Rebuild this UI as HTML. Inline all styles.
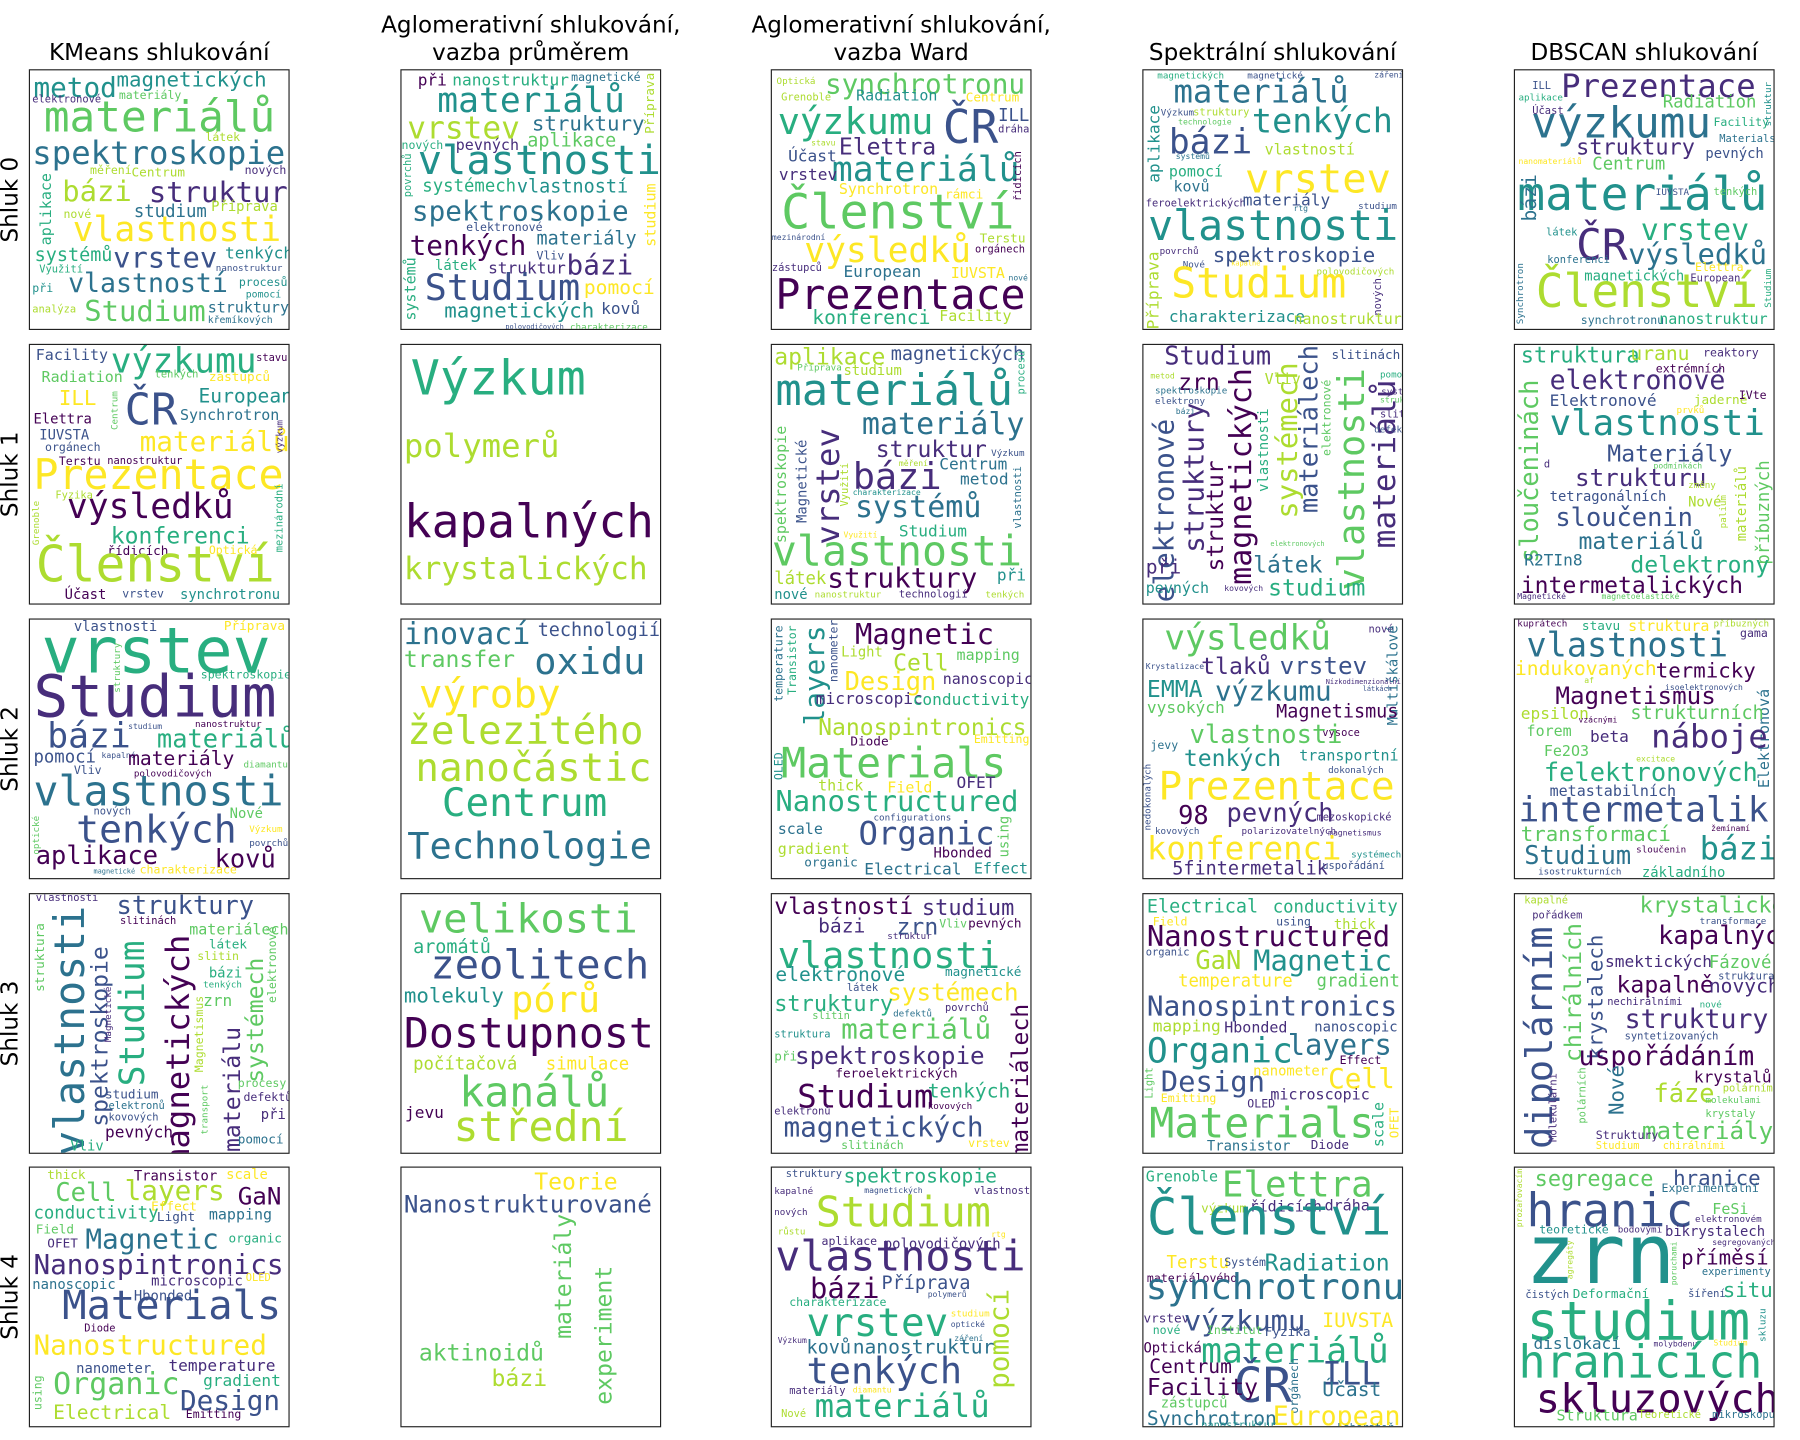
<!DOCTYPE html>
<html><head><meta charset="utf-8"><style>
body{margin:0;background:#fff;width:1800px;height:1440px;overflow:hidden}
#w{position:absolute;left:0;top:0;width:1560px;height:1248px;transform:scale(1.153846);transform-origin:0 0}
.t{position:absolute;font-family:"DejaVu Sans","Liberation Sans",sans-serif;font-size:20px;color:#000;text-align:center;width:320px;line-height:24px}
.r{position:absolute;font-family:"DejaVu Sans","Liberation Sans",sans-serif;font-size:20px;transform:rotate(-90deg);width:120px;text-align:center;line-height:22px}
.p{position:absolute;width:224px;height:224px;border:1px solid #222;overflow:hidden;background:#fff}
.p i{position:absolute;font-style:normal;font-family:"DejaVu Sans Mono","Liberation Mono",monospace;line-height:1;white-space:nowrap}
.p i.v{writing-mode:vertical-rl;transform:rotate(180deg)}
.c0{color:#440154}.c1{color:#472d7b}.c2{color:#3b528b}.c3{color:#2c728e}.c4{color:#21918c}.c5{color:#28ae80}.c6{color:#5ec962}.c7{color:#addc30}.c8{color:#fde725}
</style></head><body><div id="w">
<div class="t" style="left:-22px;top:33px">KMeans shlukování</div>
<div class="t" style="left:300px;top:9px">Aglomerativní shlukování,<br>vazba průměrem</div>
<div class="t" style="left:621px;top:9px">Aglomerativní shlukování,<br>vazba Ward</div>
<div class="t" style="left:943px;top:33px">Spektrální shlukování</div>
<div class="t" style="left:1265px;top:33px">DBSCAN shlukování</div>
<div class="r" style="left:-52px;top:162px">Shluk 0</div>
<div class="r" style="left:-52px;top:400px">Shluk 1</div>
<div class="r" style="left:-52px;top:638px">Shluk 2</div>
<div class="r" style="left:-52px;top:876px">Shluk 3</div>
<div class="r" style="left:-52px;top:1113px">Shluk 4</div>

<!-- r0c0 -->
<div class="p" style="left:25px;top:60px">
<i class="c4" style="left:3px;top:3px;font-size:24px">metod</i>
<i class="c4" style="left:75px;top:0px;font-size:18px">magnetických</i>
<i class="c1" style="left:2px;top:22px;font-size:9px">elektronové</i>
<i class="c6" style="left:77px;top:18px;font-size:10px">materiály</i>
<i class="c6" style="left:12px;top:22px;font-size:37px">materiálů</i>
<i class="c7" style="left:152px;top:54px;font-size:10px">látek</i>
<i class="c3" style="left:2px;top:58px;font-size:28px">spektroskopie</i>
<i class="c7" style="left:52px;top:83px;font-size:10px">měření</i>
<i class="c7" style="left:88px;top:83px;font-size:11px">Centrum</i>
<i class="c1" style="left:186px;top:83px;font-size:10px">nových</i>
<i class="c5 v" style="left:8px;top:89px;font-size:13px">aplikace</i>
<i class="c7" style="left:28px;top:92px;font-size:25px">bázi</i>
<i class="c1" style="left:103px;top:93px;font-size:25px">struktur</i>
<i class="c3" style="left:90px;top:115px;font-size:15px">studium</i>
<i class="c7" style="left:157px;top:112px;font-size:12px">Příprava</i>
<i class="c7" style="left:29px;top:121px;font-size:10px">nové</i>
<i class="c8" style="left:37px;top:124px;font-size:30px">vlastnosti</i>
<i class="c5" style="left:4px;top:152px;font-size:16px">systémů</i>
<i class="c2" style="left:72px;top:150px;font-size:25px">vrstev</i>
<i class="c4" style="left:169px;top:152px;font-size:14px">tenkých</i>
<i class="c5" style="left:8px;top:169px;font-size:9px">Využití</i>
<i class="c2" style="left:161px;top:168px;font-size:8px">nanostruktur</i>
<i class="c3" style="left:33px;top:174px;font-size:23px">vlastností</i>
<i class="c4" style="left:181px;top:180px;font-size:10px">procesů</i>
<i class="c4" style="left:2px;top:185px;font-size:10px">při</i>
<i class="c4" style="left:187px;top:191px;font-size:8.5px">pomocí</i>
<i class="c7" style="left:2px;top:204px;font-size:9px">analýza</i>
<i class="c6" style="left:47px;top:196px;font-size:25px">Studium</i>
<i class="c3" style="left:154px;top:200px;font-size:13px">struktury</i>
<i class="c3" style="left:154px;top:213px;font-size:8.5px">křemíkových</i>
</div>

<!-- r0c1 -->
<div class="p" style="left:347px;top:60px">
<i class="c0" style="left:14px;top:2px;font-size:14px">při</i>
<i class="c5" style="left:44px;top:2px;font-size:14px">nanostruktur</i>
<i class="c3" style="left:147px;top:2px;font-size:10px">magnetické</i>
<i class="c7 v" style="left:210px;top:2px;font-size:11px">Příprava</i>
<i class="c4" style="left:31px;top:12px;font-size:30px">materiálů</i>
<i class="c7" style="left:5px;top:37px;font-size:27px">vrstev</i>
<i class="c3" style="left:113px;top:38px;font-size:18px">struktury</i>
<i class="c6" style="left:109px;top:53px;font-size:16px">aplikace</i>
<i class="c5" style="left:0px;top:61px;font-size:10px">nových</i>
<i class="c1" style="left:47px;top:59px;font-size:13px">pevných</i>
<i class="c4" style="left:14px;top:62px;font-size:35px">vlastnosti</i>
<i class="c5 v" style="left:2px;top:72px;font-size:9px">povrchů</i>
<i class="c5" style="left:18px;top:93px;font-size:15px">systémech</i>
<i class="c4" style="left:100px;top:93px;font-size:16px">vlastností</i>
<i class="c8 v" style="left:210px;top:98px;font-size:13px">studium</i>
<i class="c3" style="left:9px;top:110px;font-size:24px">spektroskopie</i>
<i class="c2" style="left:56px;top:132px;font-size:10px">elektronové</i>
<i class="c3" style="left:117px;top:138px;font-size:16px">materiály</i>
<i class="c0" style="left:7px;top:140px;font-size:24px">tenkých</i>
<i class="c2" style="left:117px;top:157px;font-size:10px">Vliv</i>
<i class="c1" style="left:143px;top:157px;font-size:24px">bázi</i>
<i class="c5" style="left:29px;top:163px;font-size:12px">látek</i>
<i class="c1" style="left:75px;top:165px;font-size:14px">struktur</i>
<i class="c5 v" style="left:2px;top:162px;font-size:13px">systémů</i>
<i class="c2" style="left:20px;top:172px;font-size:32px">Studium</i>
<i class="c8" style="left:158px;top:181px;font-size:17px">pomocí</i>
<i class="c4" style="left:37px;top:200px;font-size:18px">magnetických</i>
<i class="c2" style="left:173px;top:200px;font-size:14px">kovů</i>
<i class="c2" style="left:90px;top:220px;font-size:6px">polovodičových</i>
<i class="c6" style="left:146px;top:219px;font-size:8px">charakterizace</i>
</div>

<!-- r0c2 -->
<div class="p" style="left:668px;top:60px">
<i class="c7" style="left:4px;top:6px;font-size:8px">Optická</i>
<i class="c6" style="left:46px;top:0px;font-size:24px">synchrotronu</i>
<i class="c7" style="left:8px;top:20px;font-size:9px">Grenoble</i>
<i class="c4" style="left:73px;top:16px;font-size:13px">Radiation</i>
<i class="c8" style="left:168px;top:18px;font-size:11px">Centrum</i>
<i class="c5" style="left:5px;top:28px;font-size:32px">výzkumu</i>
<i class="c2" style="left:148px;top:30px;font-size:40px">ČR</i>
<i class="c2" style="left:196px;top:32px;font-size:15px">ILL</i>
<i class="c7" style="left:34px;top:60px;font-size:7px">stavu</i>
<i class="c1" style="left:196px;top:48px;font-size:9px">dráha</i>
<i class="c2" style="left:14px;top:68px;font-size:14px">Účast</i>
<i class="c1" style="left:58px;top:56px;font-size:20px">Elettra</i>
<i class="c4" style="left:52px;top:72px;font-size:30px">materiálů</i>
<i class="c0 v" style="left:210px;top:70px;font-size:9px">řídicích</i>
<i class="c1" style="left:6px;top:84px;font-size:14px">vrstev</i>
<i class="c8" style="left:58px;top:97px;font-size:13px">Synchrotron</i>
<i class="c8" style="left:150px;top:102px;font-size:11px">rámci</i>
<i class="c6" style="left:8px;top:102px;font-size:42px">Členství</i>
<i class="c2" style="left:0px;top:142px;font-size:7px">mezinárodní</i>
<i class="c8" style="left:28px;top:142px;font-size:30px">výsledků</i>
<i class="c7" style="left:180px;top:140px;font-size:11px">Terstu</i>
<i class="c0" style="left:176px;top:152px;font-size:9px">orgánech</i>
<i class="c1" style="left:0px;top:168px;font-size:9px">zástupců</i>
<i class="c3" style="left:62px;top:168px;font-size:14px">European</i>
<i class="c8" style="left:155px;top:170px;font-size:13px">IUVSTA</i>
<i class="c3" style="left:205px;top:177px;font-size:7px">nové</i>
<i class="c0" style="left:3px;top:178px;font-size:36px">Prezentace</i>
<i class="c5" style="left:35px;top:207px;font-size:17px">konferenci</i>
<i class="c7" style="left:145px;top:207px;font-size:13px">Facility</i>
</div>

<!-- r0c3 -->
<div class="p" style="left:990px;top:60px">
<i class="c5" style="left:12px;top:1px;font-size:8px">magnetických</i>
<i class="c2" style="left:90px;top:1px;font-size:8px">magnetické</i>
<i class="c2" style="left:200px;top:1px;font-size:7px">záření</i>
<i class="c3" style="left:26px;top:5px;font-size:28px">materiálů</i>
<i class="c4" style="left:94px;top:30px;font-size:29px">tenkých</i>
<i class="c4 v" style="left:3px;top:30px;font-size:14px">aplikace</i>
<i class="c2" style="left:15px;top:33px;font-size:8px">Výzkum</i>
<i class="c7" style="left:43px;top:33px;font-size:9px">struktury</i>
<i class="c6" style="left:30px;top:42px;font-size:7px">technologie</i>
<i class="c2" style="left:22px;top:48px;font-size:30px">bázi</i>
<i class="c7" style="left:105px;top:63px;font-size:13px">vlastností</i>
<i class="c3" style="left:28px;top:72px;font-size:7px">systémů</i>
<i class="c5" style="left:22px;top:82px;font-size:13px">pomocí</i>
<i class="c3" style="left:26px;top:95px;font-size:13px">kovů</i>
<i class="c8" style="left:88px;top:78px;font-size:35px">vrstev</i>
<i class="c1" style="left:2px;top:112px;font-size:9px">feroelektrických</i>
<i class="c2" style="left:86px;top:106px;font-size:14px">materiály</i>
<i class="c3" style="left:130px;top:117px;font-size:7px">rtg</i>
<i class="c2" style="left:186px;top:114px;font-size:8px">studium</i>
<i class="c4" style="left:4px;top:118px;font-size:36px">vlastnosti</i>
<i class="c7 v" style="left:2px;top:157px;font-size:14px">Příprava</i>
<i class="c1" style="left:14px;top:153px;font-size:8px">povrchů</i>
<i class="c2" style="left:60px;top:152px;font-size:18px">spektroskopie</i>
<i class="c2" style="left:34px;top:165px;font-size:8px">Nové</i>
<i class="c8" style="left:76px;top:165px;font-size:6px">kapalné</i>
<i class="c7" style="left:150px;top:171px;font-size:8px">polovodičových</i>
<i class="c8" style="left:24px;top:168px;font-size:36px">Studium</i>
<i class="c1 v" style="left:200px;top:180px;font-size:9px">nových</i>
<i class="c4" style="left:22px;top:207px;font-size:14px">charakterizace</i>
<i class="c7" style="left:130px;top:210px;font-size:13px">nanostruktur</i>
</div>

<!-- r0c4 -->
<div class="p" style="left:1312px;top:60px">
<i class="c1" style="left:40px;top:0px;font-size:28px">Prezentace</i>
<i class="c2" style="left:15px;top:10px;font-size:9px">ILL</i>
<i class="c5" style="left:3px;top:20px;font-size:8px">aplikace</i>
<i class="c1" style="left:15px;top:32px;font-size:9px">Účast</i>
<i class="c6" style="left:128px;top:20px;font-size:15px">Radiation</i>
<i class="c3" style="left:14px;top:27px;font-size:37px">výzkumu</i>
<i class="c5" style="left:172px;top:41px;font-size:10px">Facility</i>
<i class="c3" style="left:177px;top:56px;font-size:9px">Materials</i>
<i class="c4 v" style="left:216px;top:10px;font-size:8px">struktur</i>
<i class="c1" style="left:53px;top:58px;font-size:19px">struktury</i>
<i class="c2" style="left:165px;top:66px;font-size:12px">pevných</i>
<i class="c8" style="left:3px;top:76px;font-size:7px">nanomateriálů</i>
<i class="c6" style="left:67px;top:74px;font-size:15px">Centrum</i>
<i class="c4" style="left:2px;top:88px;font-size:40px">materiálů</i>
<i class="c2" style="left:122px;top:102px;font-size:8px">IUVSTA</i>
<i class="c6" style="left:172px;top:102px;font-size:9px">tenkých</i>
<i class="c3 v" style="left:5px;top:90px;font-size:17px">bázi</i>
<i class="c4" style="left:27px;top:137px;font-size:9px">látek</i>
<i class="c1" style="left:53px;top:133px;font-size:37px">ČR</i>
<i class="c5" style="left:109px;top:126px;font-size:26px">vrstev</i>
<i class="c3" style="left:98px;top:147px;font-size:25px">výsledků</i>
<i class="c3" style="left:28px;top:161px;font-size:9px">konferenci</i>
<i class="c8" style="left:156px;top:167px;font-size:10px">Elettra</i>
<i class="c5" style="left:60px;top:172px;font-size:12px">magnetických</i>
<i class="c1" style="left:152px;top:177px;font-size:9px">European</i>
<i class="c3 v" style="left:1px;top:167px;font-size:8px">Synchrotron</i>
<i class="c7" style="left:18px;top:172px;font-size:40px">Členství</i>
<i class="c5 v" style="left:216px;top:172px;font-size:8px">Studium</i>
<i class="c3" style="left:57px;top:213px;font-size:10px">synchrotronu</i>
<i class="c5" style="left:125px;top:210px;font-size:13px">nanostruktur</i>
</div>

<!-- r1c0 -->
<div class="p" style="left:25px;top:298px">
<i class="c2" style="left:5px;top:3px;font-size:13px">Facility</i>
<i class="c5" style="left:70px;top:0px;font-size:30px">výzkumu</i>
<i class="c0" style="left:196px;top:8px;font-size:9px">stavu</i>
<i class="c6" style="left:10px;top:22px;font-size:13px">Radiation</i>
<i class="c6" style="left:108px;top:22px;font-size:9px">tenkých</i>
<i class="c8" style="left:155px;top:22px;font-size:11px">zástupců</i>
<i class="c8" style="left:25px;top:38px;font-size:18px">ILL</i>
<i class="c6 v" style="left:70px;top:40px;font-size:8px">Centrum</i>
<i class="c2" style="left:82px;top:37px;font-size:38px">ČR</i>
<i class="c4" style="left:146px;top:37px;font-size:17px">European</i>
<i class="c0" style="left:3px;top:58px;font-size:12px">Elettra</i>
<i class="c3" style="left:130px;top:55px;font-size:13px">Synchrotron</i>
<i class="c2" style="left:8px;top:72px;font-size:12px">IUVSTA</i>
<i class="c2" style="left:13px;top:85px;font-size:10px">orgánech</i>
<i class="c8" style="left:95px;top:72px;font-size:24px">materiálů</i>
<i class="c1 v" style="left:213px;top:65px;font-size:8px">výzkum</i>
<i class="c0" style="left:25px;top:97px;font-size:10px">Terstu</i>
<i class="c0" style="left:67px;top:97px;font-size:9px">nanostruktur</i>
<i class="c8" style="left:3px;top:96px;font-size:36px">Prezentace</i>
<i class="c7" style="left:22px;top:127px;font-size:9px">Fyzika</i>
<i class="c5 v" style="left:213px;top:120px;font-size:9px">mezinárodní</i>
<i class="c7 v" style="left:2px;top:135px;font-size:8px">Grenoble</i>
<i class="c0" style="left:32px;top:126px;font-size:30px">výsledků</i>
<i class="c5" style="left:70px;top:155px;font-size:20px">konferenci</i>
<i class="c0" style="left:67px;top:173px;font-size:11px">řídicích</i>
<i class="c8" style="left:155px;top:174px;font-size:10px">Optická</i>
<i class="c7" style="left:5px;top:170px;font-size:43px">Členství</i>
<i class="c0" style="left:30px;top:210px;font-size:12px">Účast</i>
<i class="c2" style="left:80px;top:212px;font-size:10px">vrstev</i>
<i class="c4" style="left:130px;top:210px;font-size:12px">synchrotronu</i>
</div>

<!-- r1c1 -->
<div class="p" style="left:347px;top:298px">
<i class="c5" style="left:8px;top:8px;font-size:42px">Výzkum</i>
<i class="c7" style="left:2px;top:74px;font-size:28px">polymerů</i>
<i class="c0" style="left:2px;top:134px;font-size:40px">kapalných</i>
<i class="c7" style="left:2px;top:181px;font-size:27px">krystalických</i>
</div>

<!-- r1c2 -->
<div class="p" style="left:668px;top:298px">
<i class="c7" style="left:2px;top:0px;font-size:20px">aplikace</i>
<i class="c2" style="left:103px;top:0px;font-size:16px">magnetických</i>
<i class="c6" style="left:22px;top:16px;font-size:8px">Příprava</i>
<i class="c7" style="left:62px;top:16px;font-size:12px">studium</i>
<i class="c5 v" style="left:213px;top:5px;font-size:9px">procesů</i>
<i class="c4" style="left:3px;top:20px;font-size:38px">materiálů</i>
<i class="c6 v" style="left:2px;top:70px;font-size:13px">spektroskopie</i>
<i class="c2 v" style="left:20px;top:82px;font-size:12px">Magnetické</i>
<i class="c1 v" style="left:35px;top:72px;font-size:28px">vrstev</i>
<i class="c3" style="left:78px;top:56px;font-size:26px">materiály</i>
<i class="c1" style="left:90px;top:80px;font-size:20px">struktur</i>
<i class="c7 v" style="left:60px;top:102px;font-size:9px">Využití</i>
<i class="c1" style="left:70px;top:98px;font-size:32px">bázi</i>
<i class="c3" style="left:145px;top:97px;font-size:14px">Centrum</i>
<i class="c2" style="left:190px;top:90px;font-size:8px">Výzkum</i>
<i class="c3" style="left:163px;top:110px;font-size:14px">metod</i>
<i class="c7" style="left:110px;top:100px;font-size:7px">měření</i>
<i class="c4" style="left:70px;top:125px;font-size:7px">charakterizace</i>
<i class="c3" style="left:72px;top:128px;font-size:26px">systémů</i>
<i class="c3 v" style="left:210px;top:105px;font-size:9px">vlastnosti</i>
<i class="c5" style="left:110px;top:155px;font-size:14px">Studium</i>
<i class="c8" style="left:62px;top:162px;font-size:7px">Využití</i>
<i class="c6" style="left:0px;top:162px;font-size:36px">vlastnosti</i>
<i class="c7" style="left:2px;top:195px;font-size:15px">látek</i>
<i class="c0" style="left:48px;top:190px;font-size:24px">struktury</i>
<i class="c4" style="left:195px;top:193px;font-size:14px">při</i>
<i class="c4" style="left:2px;top:210px;font-size:12px">nové</i>
<i class="c7" style="left:37px;top:213px;font-size:8px">nanostruktur</i>
<i class="c1" style="left:110px;top:213px;font-size:9px">technologií</i>
<i class="c7" style="left:185px;top:213px;font-size:8px">tenkých</i>
</div>

<!-- r1c3 -->
<div class="p" style="left:990px;top:298px">
<i class="c1" style="left:18px;top:0px;font-size:22px">Studium</i>
<i class="c2" style="left:163px;top:3px;font-size:11px">slitinách</i>
<i class="c0" style="left:30px;top:22px;font-size:20px">zrn</i>
<i class="c7" style="left:105px;top:24px;font-size:13px">Vliv</i>
<i class="c5" style="left:205px;top:22px;font-size:8px">pomocí</i>
<i class="c7" style="left:6px;top:24px;font-size:7px">metod</i>
<i class="c3" style="left:10px;top:36px;font-size:8px">spektroskopie</i>
<i class="c2" style="left:10px;top:45px;font-size:8px">elektrony</i>
<i class="c3" style="left:28px;top:55px;font-size:7px">bázi</i>
<i class="c2 v" style="left:6px;top:64px;font-size:24px">elektronové</i>
<i class="c1 v" style="left:32px;top:50px;font-size:24px">struktury</i>
<i class="c0 v" style="left:52px;top:100px;font-size:20px">struktur</i>
<i class="c0 v" style="left:72px;top:20px;font-size:26px">magnetických</i>
<i class="c5 v" style="left:98px;top:55px;font-size:12px">vlastnosti</i>
<i class="c7 v" style="left:112px;top:15px;font-size:25px">systémech</i>
<i class="c2 v" style="left:134px;top:0px;font-size:22px">materiálech</i>
<i class="c6 v" style="left:155px;top:30px;font-size:10px">elektronové</i>
<i class="c6 v" style="left:164px;top:20px;font-size:32px">vlastnosti</i>
<i class="c1 v" style="left:196px;top:30px;font-size:27px">materiálů</i>
<i class="c1" style="left:206px;top:37px;font-size:8px">systémů</i>
<i class="c6" style="left:205px;top:45px;font-size:7px">struktura</i>
<i class="c1" style="left:205px;top:57px;font-size:9px">slitin</i>
<i class="c2" style="left:200px;top:70px;font-size:8px">defektů</i>
<i class="c6" style="left:110px;top:170px;font-size:6px">elektronových</i>
<i class="c1" style="left:2px;top:185px;font-size:17px">při</i>
<i class="c3" style="left:95px;top:180px;font-size:20px">látek</i>
<i class="c4" style="left:2px;top:205px;font-size:13px">pevných</i>
<i class="c1" style="left:70px;top:208px;font-size:7px">kovových</i>
<i class="c5" style="left:108px;top:200px;font-size:20px">studium</i>
</div>

<!-- r1c4 -->
<div class="p" style="left:1312px;top:298px">
<i class="c5" style="left:5px;top:0px;font-size:19px">struktura</i>
<i class="c7" style="left:100px;top:0px;font-size:17px">uranu</i>
<i class="c1" style="left:163px;top:3px;font-size:10px">reaktory</i>
<i class="c0" style="left:122px;top:17px;font-size:10px">extrémních</i>
<i class="c6 v" style="left:3px;top:30px;font-size:22px">sloučeninách</i>
<i class="c1" style="left:30px;top:20px;font-size:23px">elektronové</i>
<i class="c2" style="left:30px;top:42px;font-size:14px">Elektronové</i>
<i class="c7" style="left:155px;top:42px;font-size:11px">jaderné</i>
<i class="c0" style="left:194px;top:40px;font-size:10px">IVte</i>
<i class="c8" style="left:140px;top:53px;font-size:8px">prvků</i>
<i class="c4" style="left:30px;top:53px;font-size:31px">vlastnosti</i>
<i class="c2" style="left:80px;top:84px;font-size:20px">Materiály</i>
<i class="c6" style="left:120px;top:102px;font-size:7px">podmínkách</i>
<i class="c1" style="left:25px;top:100px;font-size:9px">d</i>
<i class="c1" style="left:52px;top:105px;font-size:21px">strukturu</i>
<i class="c2" style="left:30px;top:125px;font-size:12px">tetragonálních</i>
<i class="c7" style="left:150px;top:118px;font-size:8px">změny</i>
<i class="c6 v" style="left:208px;top:100px;font-size:15px">příbuzných</i>
<i class="c7 v" style="left:190px;top:105px;font-size:12px">materiálů</i>
<i class="c7 v" style="left:177px;top:130px;font-size:8px">palium</i>
<i class="c7" style="left:150px;top:130px;font-size:12px">Nové</i>
<i class="c2" style="left:35px;top:140px;font-size:22px">sloučenin</i>
<i class="c3" style="left:55px;top:160px;font-size:20px">materiálů</i>
<i class="c3" style="left:8px;top:180px;font-size:14px">R2TIn8</i>
<i class="c5" style="left:100px;top:180px;font-size:20px">delektrony</i>
<i class="c0" style="left:5px;top:198px;font-size:20px">intermetalických</i>
<i class="c1" style="left:2px;top:215px;font-size:7px">Magnetické</i>
<i class="c6" style="left:75px;top:215px;font-size:7px">magnetoelastické</i>
</div>

<!-- r2c0 -->
<div class="p" style="left:25px;top:536px">
<i class="c2" style="left:38px;top:0px;font-size:12px">vlastnosti</i>
<i class="c8" style="left:168px;top:0px;font-size:11px">Příprava</i>
<i class="c5" style="left:10px;top:0px;font-size:55px">vrstev</i>
<i class="c5" style="left:148px;top:44px;font-size:10px">spektroskopie</i>
<i class="c6 v" style="left:72px;top:20px;font-size:8px">struktury</i>
<i class="c1" style="left:3px;top:42px;font-size:50px">Studium</i>
<i class="c2" style="left:85px;top:90px;font-size:7px">studium</i>
<i class="c0" style="left:143px;top:87px;font-size:8px">nanostruktur</i>
<i class="c2" style="left:15px;top:87px;font-size:30px">bázi</i>
<i class="c5" style="left:110px;top:94px;font-size:22px">materiálů</i>
<i class="c2" style="left:3px;top:112px;font-size:15px">pomocí</i>
<i class="c2" style="left:62px;top:115px;font-size:7px">kapalné</i>
<i class="c0" style="left:85px;top:113px;font-size:17px">materiály</i>
<i class="c6" style="left:185px;top:122px;font-size:8px">diamantu</i>
<i class="c2" style="left:38px;top:127px;font-size:10px">Vliv</i>
<i class="c0" style="left:90px;top:130px;font-size:8px">polovodičových</i>
<i class="c3" style="left:3px;top:132px;font-size:36px">vlastnosti</i>
<i class="c2" style="left:55px;top:163px;font-size:9px">nových</i>
<i class="c6" style="left:173px;top:162px;font-size:12px">Nové</i>
<i class="c6 v" style="left:2px;top:170px;font-size:8px">optické</i>
<i class="c2" style="left:40px;top:165px;font-size:33px">tenkých</i>
<i class="c8" style="left:190px;top:178px;font-size:8px">Výzkum</i>
<i class="c2" style="left:190px;top:190px;font-size:8px">povrchů</i>
<i class="c0" style="left:5px;top:195px;font-size:22px">aplikace</i>
<i class="c0" style="left:160px;top:198px;font-size:22px">kovů</i>
<i class="c8" style="left:95px;top:213px;font-size:10px">charakterizace</i>
<i class="c3" style="left:55px;top:216px;font-size:6px">magnetické</i>
</div>

<!-- r2c1 -->
<div class="p" style="left:347px;top:536px">
<i class="c3" style="left:2px;top:0px;font-size:26px">inovací</i>
<i class="c2" style="left:118px;top:1px;font-size:16px">technologií</i>
<i class="c6" style="left:2px;top:24px;font-size:20px">transfer</i>
<i class="c3" style="left:115px;top:20px;font-size:32px">oxidu</i>
<i class="c8" style="left:15px;top:48px;font-size:34px">výroby</i>
<i class="c7" style="left:5px;top:80px;font-size:34px">železitého</i>
<i class="c7" style="left:12px;top:112px;font-size:34px">nanočástic</i>
<i class="c5" style="left:35px;top:142px;font-size:34px">Centrum</i>
<i class="c3" style="left:5px;top:180px;font-size:32px">Technologie</i>
</div>

<!-- r2c2 -->
<div class="p" style="left:668px;top:536px">
<i class="c3 v" style="left:2px;top:5px;font-size:10px">temperature</i>
<i class="c5 v" style="left:14px;top:5px;font-size:10px">Transistor</i>
<i class="c4 v" style="left:25px;top:5px;font-size:24px">layers</i>
<i class="c2 v" style="left:50px;top:0px;font-size:10px">nanometer</i>
<i class="c0" style="left:72px;top:0px;font-size:25px">Magnetic</i>
<i class="c7" style="left:60px;top:22px;font-size:12px">Light</i>
<i class="c7" style="left:105px;top:27px;font-size:20px">Cell</i>
<i class="c6" style="left:160px;top:25px;font-size:13px">mapping</i>
<i class="c8" style="left:63px;top:44px;font-size:22px">Design</i>
<i class="c1" style="left:148px;top:46px;font-size:13px">nanoscopic</i>
<i class="c1" style="left:38px;top:62px;font-size:14px">microscopic</i>
<i class="c5" style="left:122px;top:63px;font-size:14px">conductivity</i>
<i class="c7" style="left:40px;top:83px;font-size:20px">Nanospintronics</i>
<i class="c0" style="left:68px;top:100px;font-size:11px">Diode</i>
<i class="c8" style="left:175px;top:100px;font-size:10px">Emitting</i>
<i class="c6" style="left:8px;top:108px;font-size:36px">Materials</i>
<i class="c4 v" style="left:2px;top:115px;font-size:10px">OLED</i>
<i class="c7" style="left:40px;top:138px;font-size:13px">thick</i>
<i class="c8" style="left:100px;top:140px;font-size:13px">Field</i>
<i class="c1" style="left:160px;top:135px;font-size:14px">OFET</i>
<i class="c5" style="left:3px;top:145px;font-size:25px">Nanostructured</i>
<i class="c2" style="left:88px;top:168px;font-size:8px">configurations</i>
<i class="c3" style="left:5px;top:176px;font-size:13px">scale</i>
<i class="c2" style="left:75px;top:172px;font-size:28px">Organic</i>
<i class="c6 v" style="left:195px;top:170px;font-size:12px">using</i>
<i class="c7" style="left:5px;top:193px;font-size:13px">gradient</i>
<i class="c0" style="left:140px;top:196px;font-size:12px">Hbonded</i>
<i class="c3" style="left:28px;top:205px;font-size:11px">organic</i>
<i class="c3" style="left:80px;top:210px;font-size:14px">Electrical</i>
<i class="c4" style="left:175px;top:210px;font-size:13px">Effect</i>
</div>

<!-- r2c3 -->
<div class="p" style="left:990px;top:536px">
<i class="c6" style="left:18px;top:2px;font-size:30px">výsledků</i>
<i class="c1" style="left:195px;top:5px;font-size:9px">nové</i>
<i class="c3 v" style="left:210px;top:5px;font-size:12px">Multiškálové</i>
<i class="c2" style="left:2px;top:38px;font-size:7px">Krystalizace</i>
<i class="c1" style="left:50px;top:30px;font-size:20px">tlaků</i>
<i class="c2" style="left:118px;top:30px;font-size:21px">vrstev</i>
<i class="c1" style="left:158px;top:52px;font-size:6px">Nízkodimenzionální</i>
<i class="c2" style="left:190px;top:58px;font-size:6px">látkách</i>
<i class="c4" style="left:3px;top:50px;font-size:20px">EMMA</i>
<i class="c3" style="left:62px;top:50px;font-size:24px">výzkumu</i>
<i class="c0" style="left:115px;top:72px;font-size:16px">Magnetismus</i>
<i class="c6" style="left:3px;top:70px;font-size:14px">vysokých</i>
<i class="c0" style="left:155px;top:95px;font-size:9px">vysoce</i>
<i class="c3" style="left:6px;top:105px;font-size:10px">jevy</i>
<i class="c6" style="left:40px;top:90px;font-size:22px">vlastnosti</i>
<i class="c4" style="left:35px;top:110px;font-size:20px">tenkých</i>
<i class="c4" style="left:135px;top:112px;font-size:13px">transportní</i>
<i class="c2" style="left:160px;top:127px;font-size:8px">dokonalých</i>
<i class="c2 v" style="left:0px;top:125px;font-size:8px">nedokonalých</i>
<i class="c8" style="left:13px;top:128px;font-size:34px">Prezentace</i>
<i class="c0" style="left:30px;top:160px;font-size:22px">98</i>
<i class="c1" style="left:72px;top:158px;font-size:22px">pevných</i>
<i class="c1" style="left:150px;top:168px;font-size:9px">mezoskopické</i>
<i class="c2" style="left:10px;top:180px;font-size:8px">kovových</i>
<i class="c1" style="left:85px;top:180px;font-size:8px">polarizovatelných</i>
<i class="c1" style="left:160px;top:182px;font-size:7px">magnetismus</i>
<i class="c8" style="left:3px;top:185px;font-size:28px">konferenci</i>
<i class="c4" style="left:180px;top:200px;font-size:8px">systémech</i>
<i class="c1" style="left:25px;top:208px;font-size:16px">5fintermetalik</i>
<i class="c2" style="left:155px;top:210px;font-size:9px">uspořádání</i>
</div>

<!-- r2c4 -->
<div class="p" style="left:1312px;top:536px">
<i class="c0" style="left:2px;top:0px;font-size:8px">kuprátech</i>
<i class="c5" style="left:58px;top:0px;font-size:11px">stavu</i>
<i class="c8" style="left:98px;top:0px;font-size:13px">struktura</i>
<i class="c7" style="left:172px;top:0px;font-size:8px">příbuzných</i>
<i class="c1" style="left:195px;top:8px;font-size:10px">gama</i>
<i class="c3" style="left:10px;top:8px;font-size:29px">vlastnosti</i>
<i class="c8" style="left:0px;top:35px;font-size:17px">indukovaných</i>
<i class="c0" style="left:122px;top:36px;font-size:18px">termicky</i>
<i class="c2" style="left:130px;top:56px;font-size:7px">isoelektronových</i>
<i class="c7" style="left:60px;top:50px;font-size:7px">af</i>
<i class="c0" style="left:35px;top:56px;font-size:21px">Magnetismus</i>
<i class="c3 v" style="left:210px;top:60px;font-size:13px">Elektronová</i>
<i class="c7" style="left:5px;top:75px;font-size:14px">epsilon</i>
<i class="c6" style="left:100px;top:73px;font-size:16px">strukturních</i>
<i class="c0" style="left:55px;top:84px;font-size:7px">vzácnými</i>
<i class="c6" style="left:10px;top:91px;font-size:13px">forem</i>
<i class="c1" style="left:65px;top:95px;font-size:14px">beta</i>
<i class="c1" style="left:118px;top:88px;font-size:28px">náboje</i>
<i class="c6" style="left:25px;top:108px;font-size:13px">Fe2O3</i>
<i class="c7" style="left:105px;top:118px;font-size:7px">excitace</i>
<i class="c5" style="left:25px;top:123px;font-size:22px">felektronových</i>
<i class="c2" style="left:30px;top:143px;font-size:13px">metastabilních</i>
<i class="c2" style="left:3px;top:151px;font-size:30px">intermetalik</i>
<i class="c6" style="left:5px;top:178px;font-size:18px">transformací</i>
<i class="c0" style="left:170px;top:178px;font-size:7px">žemínamí</i>
<i class="c0" style="left:105px;top:196px;font-size:8px">sloučenin</i>
<i class="c3" style="left:8px;top:195px;font-size:22px">Studium</i>
<i class="c4" style="left:160px;top:185px;font-size:28px">bázi</i>
<i class="c2" style="left:20px;top:215px;font-size:8px">isostrukturních</i>
<i class="c5" style="left:110px;top:213px;font-size:12px">základního</i>
</div>

<!-- r3c0 -->
<div class="p" style="left:25px;top:774px">
<i class="c1" style="left:5px;top:0px;font-size:9px">vlastnosti</i>
<i class="c2" style="left:75px;top:0px;font-size:22px">struktury</i>
<i class="c0" style="left:78px;top:20px;font-size:9px">slitinách</i>
<i class="c6" style="left:138px;top:25px;font-size:13px">materiálech</i>
<i class="c6 v" style="left:3px;top:25px;font-size:11px">struktura</i>
<i class="c3 v" style="left:18px;top:10px;font-size:36px">vlastnosti</i>
<i class="c2 v" style="left:50px;top:45px;font-size:20px">spektroskopie</i>
<i class="c5 v" style="left:75px;top:40px;font-size:30px">Studium</i>
<i class="c0 v" style="left:115px;top:35px;font-size:28px">magnetických</i>
<i class="c1 v" style="left:64px;top:80px;font-size:8px">Magnetické</i>
<i class="c5" style="left:155px;top:38px;font-size:11px">látek</i>
<i class="c7" style="left:145px;top:50px;font-size:10px">slitin</i>
<i class="c5" style="left:155px;top:62px;font-size:12px">bázi</i>
<i class="c5" style="left:150px;top:75px;font-size:8px">tenkých</i>
<i class="c6 v" style="left:185px;top:55px;font-size:20px">systémech</i>
<i class="c6 v" style="left:206px;top:28px;font-size:10px">elektronové</i>
<i class="c7 v" style="left:143px;top:88px;font-size:10px">Magnetismus</i>
<i class="c6" style="left:150px;top:86px;font-size:14px">zrn</i>
<i class="c1 v" style="left:165px;top:115px;font-size:20px">materiálu</i>
<i class="c6" style="left:180px;top:160px;font-size:10px">procesy</i>
<i class="c1" style="left:185px;top:172px;font-size:10px">defektů</i>
<i class="c1" style="left:200px;top:185px;font-size:12px">při</i>
<i class="c2" style="left:65px;top:168px;font-size:11px">studium</i>
<i class="c3" style="left:68px;top:180px;font-size:9px">elektronů</i>
<i class="c2" style="left:68px;top:190px;font-size:9px">kovových</i>
<i class="c0" style="left:65px;top:200px;font-size:14px">pevných</i>
<i class="c6 v" style="left:148px;top:165px;font-size:8px">transport</i>
<i class="c5" style="left:35px;top:212px;font-size:12px">Vliv</i>
<i class="c3" style="left:180px;top:207px;font-size:11px">pomocí</i>
</div>

<!-- r3c1 -->
<div class="p" style="left:347px;top:774px">
<i class="c6" style="left:15px;top:5px;font-size:35px">velikosti</i>
<i class="c5" style="left:10px;top:38px;font-size:16px">aromátů</i>
<i class="c2" style="left:25px;top:45px;font-size:35px">zeolitech</i>
<i class="c4" style="left:2px;top:80px;font-size:18px">molekuly</i>
<i class="c8" style="left:95px;top:75px;font-size:32px">pórů</i>
<i class="c0" style="left:2px;top:104px;font-size:36px">Dostupnost</i>
<i class="c7" style="left:10px;top:140px;font-size:15px">počítačová</i>
<i class="c8" style="left:125px;top:140px;font-size:15px">simulace</i>
<i class="c6" style="left:50px;top:155px;font-size:36px">kanálů</i>
<i class="c0" style="left:3px;top:183px;font-size:14px">jevu</i>
<i class="c7" style="left:45px;top:185px;font-size:36px">střední</i>
</div>

<!-- r3c2 -->
<div class="p" style="left:668px;top:774px">
<i class="c0" style="left:2px;top:0px;font-size:20px">vlastností</i>
<i class="c1" style="left:130px;top:3px;font-size:19px">studium</i>
<i class="c1" style="left:40px;top:20px;font-size:17px">bázi</i>
<i class="c2" style="left:108px;top:18px;font-size:20px">zrn</i>
<i class="c6" style="left:145px;top:22px;font-size:10px">Vliv</i>
<i class="c0" style="left:170px;top:20px;font-size:11px">pevných</i>
<i class="c1" style="left:100px;top:33px;font-size:8px">struktur</i>
<i class="c5" style="left:5px;top:37px;font-size:32px">vlastnosti</i>
<i class="c4" style="left:3px;top:62px;font-size:17px">elektronové</i>
<i class="c4" style="left:150px;top:62px;font-size:11px">magnetické</i>
<i class="c2" style="left:65px;top:78px;font-size:9px">látek</i>
<i class="c8" style="left:100px;top:75px;font-size:21px">systémech</i>
<i class="c5" style="left:2px;top:86px;font-size:19px">struktury</i>
<i class="c1" style="left:150px;top:95px;font-size:9px">povrchů</i>
<i class="c0 v" style="left:205px;top:95px;font-size:20px">materiálech</i>
<i class="c6" style="left:35px;top:102px;font-size:9px">slitin</i>
<i class="c3" style="left:105px;top:100px;font-size:8px">defektů</i>
<i class="c4" style="left:2px;top:118px;font-size:9px">struktura</i>
<i class="c6" style="left:60px;top:105px;font-size:24px">materiálů</i>
<i class="c6" style="left:2px;top:135px;font-size:11px">při</i>
<i class="c1" style="left:20px;top:130px;font-size:21px">spektroskopie</i>
<i class="c0" style="left:55px;top:150px;font-size:11px">feroelektrických</i>
<i class="c0" style="left:22px;top:162px;font-size:28px">Studium</i>
<i class="c5" style="left:135px;top:163px;font-size:17px">tenkých</i>
<i class="c0" style="left:135px;top:180px;font-size:8px">kovových</i>
<i class="c1" style="left:2px;top:185px;font-size:9px">elektronů</i>
<i class="c2" style="left:10px;top:190px;font-size:24px">magnetických</i>
<i class="c8" style="left:170px;top:212px;font-size:10px">vrstev</i>
<i class="c6" style="left:60px;top:214px;font-size:10px">slitinách</i>
</div>

<!-- r3c3 -->
<div class="p" style="left:990px;top:774px">
<i class="c5" style="left:3px;top:3px;font-size:16px">Electrical</i>
<i class="c5" style="left:112px;top:4px;font-size:15px">conductivity</i>
<i class="c8" style="left:8px;top:20px;font-size:10px">Field</i>
<i class="c2" style="left:115px;top:20px;font-size:10px">using</i>
<i class="c7" style="left:165px;top:20px;font-size:12px">thick</i>
<i class="c0" style="left:3px;top:24px;font-size:25px">Nanostructured</i>
<i class="c2" style="left:2px;top:47px;font-size:9px">organic</i>
<i class="c7" style="left:45px;top:48px;font-size:22px">GaN</i>
<i class="c4" style="left:95px;top:45px;font-size:25px">Magnetic</i>
<i class="c8" style="left:30px;top:68px;font-size:15px">temperature</i>
<i class="c6" style="left:150px;top:68px;font-size:15px">gradient</i>
<i class="c2" style="left:3px;top:85px;font-size:24px">Nanospintronics</i>
<i class="c7" style="left:8px;top:108px;font-size:14px">mapping</i>
<i class="c1" style="left:70px;top:110px;font-size:13px">Hbonded</i>
<i class="c2" style="left:148px;top:109px;font-size:12px">nanoscopic</i>
<i class="c4" style="left:3px;top:122px;font-size:30px">Organic</i>
<i class="c3" style="left:125px;top:118px;font-size:25px">layers</i>
<i class="c0" style="left:170px;top:140px;font-size:10px">Effect</i>
<i class="c6 v" style="left:2px;top:150px;font-size:9px">Light</i>
<i class="c2" style="left:15px;top:150px;font-size:25px">Design</i>
<i class="c8" style="left:95px;top:147px;font-size:12px">nanometer</i>
<i class="c8" style="left:160px;top:148px;font-size:24px">Cell</i>
<i class="c8" style="left:15px;top:173px;font-size:10px">Emitting</i>
<i class="c1" style="left:110px;top:168px;font-size:13px">microscopic</i>
<i class="c1" style="left:90px;top:178px;font-size:10px">OLED</i>
<i class="c6" style="left:5px;top:182px;font-size:36px">Materials</i>
<i class="c5 v" style="left:198px;top:180px;font-size:13px">scale</i>
<i class="c8 v" style="left:212px;top:185px;font-size:11px">OFET</i>
<i class="c3" style="left:55px;top:212px;font-size:12px">Transistor</i>
<i class="c1" style="left:145px;top:212px;font-size:11px">Diode</i>
</div>

<!-- r3c4 -->
<div class="p" style="left:1312px;top:774px">
<i class="c7" style="left:8px;top:2px;font-size:9px">kapalné</i>
<i class="c6" style="left:108px;top:1px;font-size:19px">krystalické</i>
<i class="c1" style="left:15px;top:15px;font-size:9px">pořádkem</i>
<i class="c2" style="left:160px;top:20px;font-size:8px">transformace</i>
<i class="c0" style="left:124px;top:26px;font-size:22px">kapalných</i>
<i class="c2 v" style="left:5px;top:28px;font-size:32px">dipolárním</i>
<i class="c6 v" style="left:40px;top:25px;font-size:20px">chirálních</i>
<i class="c2 v" style="left:62px;top:35px;font-size:18px">krystalech</i>
<i class="c1" style="left:78px;top:52px;font-size:14px">smektických</i>
<i class="c6" style="left:168px;top:52px;font-size:15px">Fázové</i>
<i class="c2" style="left:176px;top:68px;font-size:9px">struktura</i>
<i class="c0" style="left:88px;top:68px;font-size:20px">kapalně</i>
<i class="c1" style="left:168px;top:72px;font-size:17px">nových</i>
<i class="c1" style="left:80px;top:90px;font-size:9px">nechirálními</i>
<i class="c5" style="left:160px;top:92px;font-size:8px">nové</i>
<i class="c1" style="left:95px;top:98px;font-size:23px">struktury</i>
<i class="c2" style="left:95px;top:120px;font-size:9px">syntetizovaných</i>
<i class="c0" style="left:55px;top:130px;font-size:23px">uspořádáním</i>
<i class="c0" style="left:155px;top:152px;font-size:14px">krystalů</i>
<i class="c1 v" style="left:30px;top:155px;font-size:9px">Molekulární</i>
<i class="c6 v" style="left:55px;top:150px;font-size:9px">polárních</i>
<i class="c3 v" style="left:80px;top:148px;font-size:18px">Nové</i>
<i class="c7" style="left:120px;top:163px;font-size:22px">fáze</i>
<i class="c7" style="left:180px;top:165px;font-size:9px">polárním</i>
<i class="c6" style="left:165px;top:175px;font-size:8px">molekulami</i>
<i class="c6" style="left:165px;top:187px;font-size:9px">krystaly</i>
<i class="c6" style="left:110px;top:195px;font-size:21px">materiály</i>
<i class="c1" style="left:70px;top:205px;font-size:10px">Struktury</i>
<i class="c8" style="left:70px;top:215px;font-size:9px">Studium</i>
<i class="c8" style="left:128px;top:215px;font-size:9px">chirálními</i>
</div>

<!-- r4c0 -->
<div class="p" style="left:25px;top:1011px">
<i class="c7" style="left:15px;top:1px;font-size:11px">thick</i>
<i class="c0" style="left:90px;top:1px;font-size:12px">Transistor</i>
<i class="c8" style="left:170px;top:0px;font-size:12px">scale</i>
<i class="c6" style="left:22px;top:12px;font-size:22px">Cell</i>
<i class="c7" style="left:82px;top:8px;font-size:24px">layers</i>
<i class="c0" style="left:180px;top:15px;font-size:21px">GaN</i>
<i class="c8" style="left:105px;top:28px;font-size:11px">Effect</i>
<i class="c2" style="left:110px;top:37px;font-size:11px">Light</i>
<i class="c3" style="left:155px;top:35px;font-size:13px">mapping</i>
<i class="c5" style="left:3px;top:32px;font-size:15px">conductivity</i>
<i class="c6" style="left:5px;top:48px;font-size:11px">Field</i>
<i class="c1" style="left:15px;top:60px;font-size:11px">OFET</i>
<i class="c3" style="left:48px;top:50px;font-size:24px">Magnetic</i>
<i class="c5" style="left:172px;top:56px;font-size:11px">organic</i>
<i class="c1" style="left:3px;top:72px;font-size:24px">Nanospintronics</i>
<i class="c3" style="left:2px;top:95px;font-size:12px">nanoscopic</i>
<i class="c1" style="left:105px;top:92px;font-size:12px">microscopic</i>
<i class="c8" style="left:187px;top:92px;font-size:9px">OLED</i>
<i class="c2" style="left:90px;top:105px;font-size:12px">Hbonded</i>
<i class="c2" style="left:28px;top:103px;font-size:35px">Materials</i>
<i class="c0" style="left:47px;top:136px;font-size:9px">Diode</i>
<i class="c8" style="left:3px;top:142px;font-size:24px">Nanostructured</i>
<i class="c2" style="left:40px;top:168px;font-size:12px">nanometer</i>
<i class="c1" style="left:120px;top:165px;font-size:14px">temperature</i>
<i class="c5" style="left:150px;top:178px;font-size:14px">gradient</i>
<i class="c6 v" style="left:3px;top:180px;font-size:10px">using</i>
<i class="c6" style="left:20px;top:175px;font-size:26px">Organic</i>
<i class="c2" style="left:130px;top:190px;font-size:24px">Design</i>
<i class="c7" style="left:20px;top:205px;font-size:17px">Electrical</i>
<i class="c0" style="left:135px;top:210px;font-size:10px">Emitting</i>
</div>

<!-- r4c1 -->
<div class="p" style="left:347px;top:1011px">
<i class="c8" style="left:115px;top:2px;font-size:20px">Teorie</i>
<i class="c2" style="left:2px;top:22px;font-size:21px">Nanostrukturované</i>
<i class="c6 v" style="left:130px;top:40px;font-size:20px">materiály</i>
<i class="c6 v" style="left:165px;top:85px;font-size:20px">experiment</i>
<i class="c6" style="left:15px;top:150px;font-size:20px">aktinoidů</i>
<i class="c7" style="left:78px;top:172px;font-size:20px">bázi</i>
</div>

<!-- r4c2 -->
<div class="p" style="left:668px;top:1011px">
<i class="c2" style="left:12px;top:2px;font-size:9px">struktury</i>
<i class="c5" style="left:62px;top:0px;font-size:17px">spektroskopie</i>
<i class="c2" style="left:80px;top:17px;font-size:7px">magnetických</i>
<i class="c1" style="left:175px;top:17px;font-size:9px">vlastnosti</i>
<i class="c1" style="left:2px;top:17px;font-size:8px">kapalné</i>
<i class="c7" style="left:38px;top:22px;font-size:36px">Studium</i>
<i class="c1" style="left:2px;top:35px;font-size:8px">nových</i>
<i class="c7" style="left:5px;top:52px;font-size:8px">růstu</i>
<i class="c1" style="left:43px;top:60px;font-size:10px">aplikace</i>
<i class="c1" style="left:97px;top:60px;font-size:12px">polovodičových</i>
<i class="c8" style="left:190px;top:55px;font-size:7px">rtg</i>
<i class="c1" style="left:3px;top:60px;font-size:36px">vlastnosti</i>
<i class="c0" style="left:33px;top:92px;font-size:25px">bázi</i>
<i class="c2" style="left:95px;top:92px;font-size:16px">Příprava</i>
<i class="c2" style="left:135px;top:107px;font-size:7px">polymerů</i>
<i class="c5" style="left:15px;top:113px;font-size:10px">charakterizace</i>
<i class="c8" style="left:155px;top:123px;font-size:8px">studium</i>
<i class="c2" style="left:155px;top:133px;font-size:7px">optické</i>
<i class="c7 v" style="left:185px;top:105px;font-size:24px">pomocí</i>
<i class="c5" style="left:30px;top:118px;font-size:34px">vrstev</i>
<i class="c1" style="left:5px;top:147px;font-size:7px">Výzkum</i>
<i class="c3" style="left:30px;top:148px;font-size:16px">kovů</i>
<i class="c3" style="left:70px;top:148px;font-size:17px">nanostruktur</i>
<i class="c3" style="left:158px;top:145px;font-size:7px">záření</i>
<i class="c2" style="left:30px;top:160px;font-size:32px">tenkých</i>
<i class="c1" style="left:15px;top:190px;font-size:9px">materiály</i>
<i class="c8" style="left:70px;top:190px;font-size:7px">diamantu</i>
<i class="c7" style="left:8px;top:210px;font-size:9px">Nové</i>
<i class="c5" style="left:37px;top:193px;font-size:28px">materiálů</i>
</div>

<!-- r4c3 -->
<div class="p" style="left:990px;top:1011px">
<i class="c5" style="left:2px;top:2px;font-size:13px">Grenoble</i>
<i class="c6" style="left:68px;top:0px;font-size:31px">Elettra</i>
<i class="c7" style="left:50px;top:30px;font-size:11px">výzkum</i>
<i class="c1" style="left:92px;top:28px;font-size:13px">řídicích</i>
<i class="c1" style="left:157px;top:27px;font-size:13px">dráha</i>
<i class="c4" style="left:3px;top:22px;font-size:44px">Členství</i>
<i class="c8" style="left:20px;top:75px;font-size:15px">Terstu</i>
<i class="c2" style="left:70px;top:78px;font-size:10px">Systém</i>
<i class="c4" style="left:105px;top:72px;font-size:20px">Radiation</i>
<i class="c0" style="left:3px;top:92px;font-size:10px">materiálového</i>
<i class="c3" style="left:2px;top:89px;font-size:31px">synchrotronu</i>
<i class="c1" style="left:0px;top:125px;font-size:11px">vrstev</i>
<i class="c2" style="left:35px;top:120px;font-size:25px">výzkumu</i>
<i class="c8" style="left:155px;top:125px;font-size:17px">IUVSTA</i>
<i class="c5" style="left:8px;top:137px;font-size:10px">nové</i>
<i class="c6" style="left:55px;top:137px;font-size:10px">Institut</i>
<i class="c2" style="left:105px;top:137px;font-size:11px">Fyzika</i>
<i class="c0" style="left:0px;top:150px;font-size:12px">Optická</i>
<i class="c5" style="left:50px;top:145px;font-size:30px">materiálů</i>
<i class="c0" style="left:5px;top:165px;font-size:17px">Centrum</i>
<i class="c2" style="left:78px;top:168px;font-size:42px">ČR</i>
<i class="c3 v" style="left:127px;top:165px;font-size:10px">orgánech</i>
<i class="c2" style="left:155px;top:165px;font-size:28px">ILL</i>
<i class="c0" style="left:3px;top:180px;font-size:20px">Facility</i>
<i class="c3" style="left:155px;top:185px;font-size:17px">Účast</i>
<i class="c6" style="left:15px;top:198px;font-size:12px">zástupců</i>
<i class="c3" style="left:3px;top:210px;font-size:17px">Synchrotron</i>
<i class="c8" style="left:112px;top:205px;font-size:23px">European</i>
<i class="c4" style="left:50px;top:220px;font-size:9px">nanostruktur</i>
<i class="c3" style="left:168px;top:222px;font-size:9px">Laboratoř</i>
</div>

<!-- r4c4 -->
<div class="p" style="left:1312px;top:1011px">
<i class="c7 v" style="left:1px;top:1px;font-size:7px">prozařovacím</i>
<i class="c6" style="left:17px;top:1px;font-size:19px">segregace</i>
<i class="c2" style="left:137px;top:1px;font-size:18px">hranice</i>
<i class="c3" style="left:127px;top:14px;font-size:10px">Experimentální</i>
<i class="c2" style="left:10px;top:18px;font-size:40px">hranic</i>
<i class="c6" style="left:171px;top:30px;font-size:13px">FeSi</i>
<i class="c1" style="left:156px;top:41px;font-size:8px">elektronovém</i>
<i class="c4" style="left:21px;top:50px;font-size:10px">teoretické</i>
<i class="c1" style="left:89px;top:50px;font-size:8px">bodovými</i>
<i class="c1" style="left:130px;top:49px;font-size:12px">bikrystalech</i>
<i class="c1" style="left:171px;top:62px;font-size:7px">segregovaných</i>
<i class="c4" style="left:9px;top:39px;font-size:72px">zrn</i>
<i class="c7 v" style="left:45px;top:63px;font-size:7px">agregáty</i>
<i class="c6 v" style="left:135px;top:64px;font-size:7px">poruchami</i>
<i class="c0" style="left:144px;top:70px;font-size:18px">příměsí</i>
<i class="c3" style="left:162px;top:87px;font-size:9px">experimenty</i>
<i class="c2" style="left:9px;top:107px;font-size:9px">čistých</i>
<i class="c5" style="left:50px;top:104px;font-size:11px">Deformační</i>
<i class="c2" style="left:150px;top:106px;font-size:9px">šíření</i>
<i class="c5" style="left:180px;top:98px;font-size:18px">situ</i>
<i class="c5" style="left:10px;top:110px;font-size:46px">studium</i>
<i class="c4 v" style="left:211px;top:122px;font-size:8px">skluzu</i>
<i class="c3" style="left:16px;top:146px;font-size:14px">dislokací</i>
<i class="c1" style="left:120px;top:150px;font-size:7px">molybdenu</i>
<i class="c8" style="left:172px;top:149px;font-size:7px">Studium</i>
<i class="c5" style="left:3px;top:150px;font-size:39px">hranicích</i>
<i class="c0" style="left:18px;top:184px;font-size:35px">skluzových</i>
<i class="c6" style="left:36px;top:209px;font-size:13px">Struktura</i>
<i class="c7" style="left:107px;top:211px;font-size:9px">Teoretické</i>
<i class="c3" style="left:171px;top:211px;font-size:9px">mikroskopu</i>
</div>

</div></body></html>
